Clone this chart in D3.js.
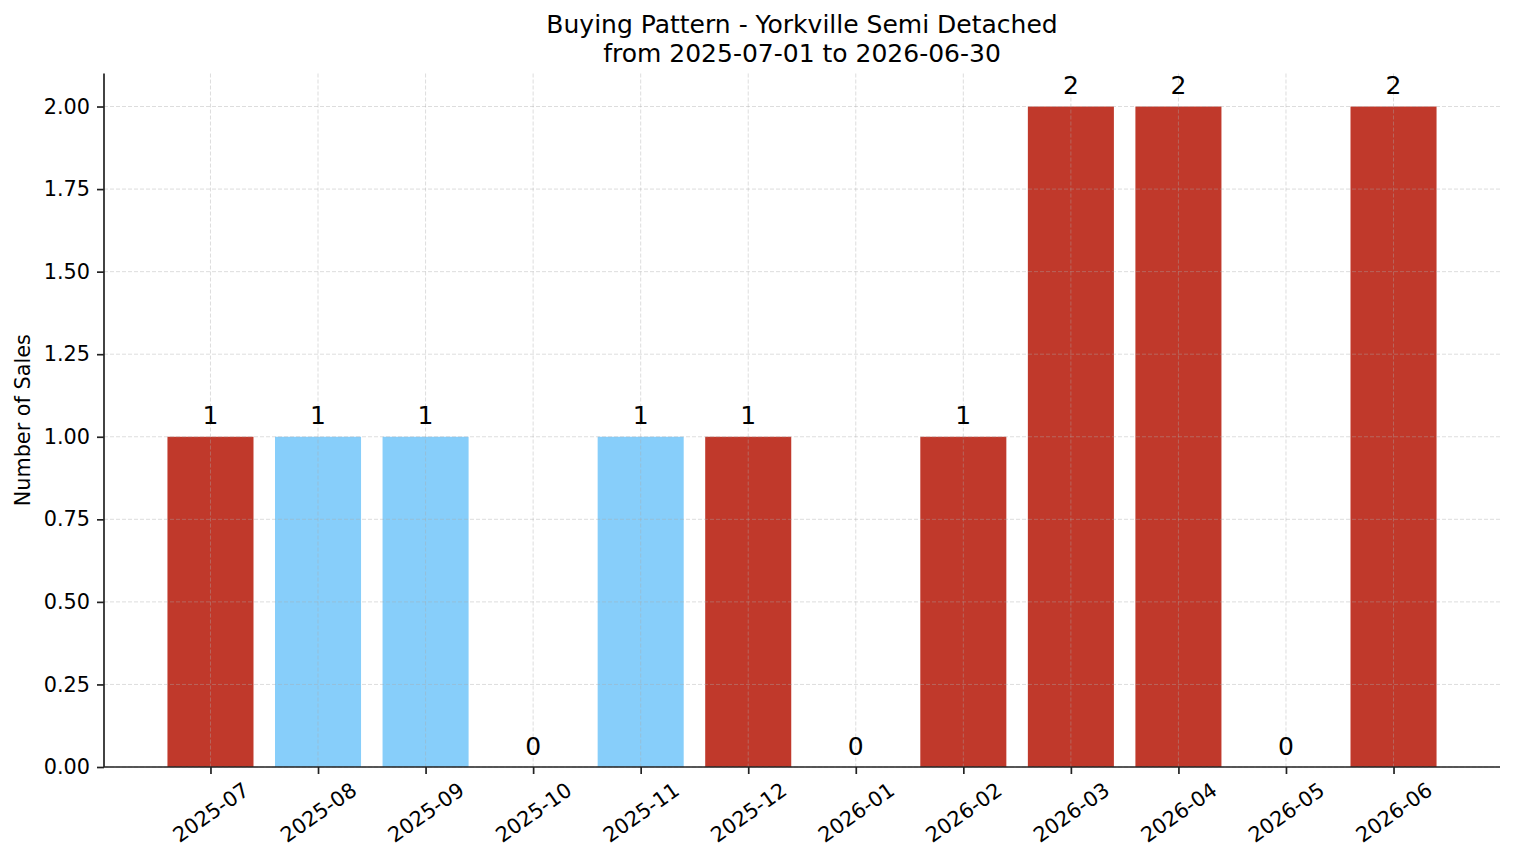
<!DOCTYPE html>
<html>
<head>
<meta charset="utf-8">
<script src="https://cdn.jsdelivr.net/npm/d3@7"></script>
<style>
  body { margin: 0; background: #fff; }
  text { font-family: "DejaVu Sans", sans-serif; fill: #000; }
</style>
</head>
<body>
<div id="chart"></div>
<script>
// monthly sales data
const months = ["2025-07", "2025-08", "2025-09", "2025-10", "2025-11", "2025-12",
                "2026-01", "2026-02", "2026-03", "2026-04", "2026-05", "2026-06"];
const sales = [1, 1, 1, 0, 1, 1, 0, 1, 2, 2, 0, 2];
const barColors = ["#c0392b", "#87cefa", "#87cefa", "#c0392b", "#87cefa", "#c0392b",
                   "#c0392b", "#c0392b", "#c0392b", "#c0392b", "#c0392b", "#c0392b"];
const yTicks = [0, 0.25, 0.5, 0.75, 1, 1.25, 1.5, 1.75, 2];
const titleLines = ["Buying Pattern - Yorkville Semi Detached", "from 2025-07-01 to 2026-06-30"];

const width = 1514, height = 863;
const margin = { top: 73.5, right: 14, bottom: 96, left: 104 };
const innerW = width - margin.left - margin.right;
const innerH = height - margin.top - margin.bottom;

const svg = d3.select("#chart").append("svg")
    .attr("width", width)
    .attr("height", height);

const g = svg.append("g")
    .attr("transform", `translate(${margin.left},${margin.top})`);

// x: index scale like matplotlib with 5% margins around the bars
const barW = 0.8;
const xPad = (months.length - 1 + barW) * 0.05;
const x = d3.scaleLinear()
    .domain([-barW / 2 - xPad, months.length - 1 + barW / 2 + xPad])
    .range([0, innerW]);

const y = d3.scaleLinear().domain([0, 2.1]).range([innerH, 0]);

// bars
g.selectAll("rect.bar")
    .data(sales)
    .join("rect")
    .attr("class", "bar")
    .attr("x", (d, i) => x(i - barW / 2))
    .attr("width", x(barW) - x(0))
    .attr("y", d => y(d))
    .attr("height", d => y(0) - y(d))
    .attr("fill", (d, i) => barColors[i]);

// grid on top of bars
const grid = g.append("g").attr("class", "grid")
    .attr("stroke", "#aaaaaa")
    .attr("stroke-opacity", 0.5)
    .attr("stroke-width", 0.8)
    .attr("stroke-dasharray", "4,2");
grid.selectAll("line.h")
    .data(yTicks)
    .join("line")
    .attr("class", "h")
    .attr("x1", 0).attr("x2", innerW)
    .attr("y1", d => y(d)).attr("y2", d => y(d));
grid.selectAll("line.v")
    .data(months.map((m, i) => i))
    .join("line")
    .attr("class", "v")
    .attr("y1", 0).attr("y2", innerH)
    .attr("x1", d => x(d)).attr("x2", d => x(d));

// value labels
g.selectAll("text.val")
    .data(sales)
    .join("text")
    .attr("class", "val")
    .attr("x", (d, i) => x(i))
    .attr("y", d => y(d) - 12.5)
    .attr("text-anchor", "middle")
    .style("font-size", "25px")
    .text(d => d);

// y axis
const yAxis = g.append("g")
    .call(d3.axisLeft(y).tickValues(yTicks).tickFormat(d3.format(".2f")).tickSize(7).tickPadding(7));

// x axis
const xAxis = g.append("g")
    .attr("transform", `translate(0,${innerH})`)
    .call(d3.axisBottom(x).tickValues(months.map((m, i) => i))
        .tickFormat(i => months[i]).tickSize(7).tickPadding(7));

[xAxis, yAxis].forEach(ax => {
    ax.select(".domain").attr("stroke", "#222").attr("stroke-width", 1.7);
    ax.selectAll(".tick line").attr("stroke", "#222").attr("stroke-width", 1.7);
    ax.selectAll(".tick text")
        .style("font-family", '"DejaVu Sans", sans-serif')
        .style("font-size", "20.8px")
        .attr("fill", "#000");
});
// remove the little end caps d3 adds on the domain path
yAxis.select(".domain").attr("d", `M0,${innerH}V0`);
xAxis.select(".domain").attr("d", `M0,0H${innerW}`);

// rotate x tick labels 35 degrees, centred on tick
xAxis.selectAll(".tick text").each(function () {
    const t = d3.select(this);
    const bb = this.getBBox();
    const a = 35 * Math.PI / 180;
    const w = bb.width, h = 16;
    const boxH = w * Math.sin(a) + h * Math.cos(a);
    t.attr("text-anchor", "middle")
        .attr("dy", null)
        .attr("y", 0)
        .attr("transform", `translate(0,${14 + boxH / 2}) rotate(-35) translate(0,${h * 0.45})`);
});

// y label
svg.append("text")
    .attr("transform", `translate(30,${margin.top + innerH / 2}) rotate(-90)`)
    .attr("text-anchor", "middle")
    .style("font-size", "20.8px")
    .text("Number of Sales");

// title
svg.append("text")
    .attr("text-anchor", "middle")
    .style("font-size", "25px")
    .selectAll("tspan")
    .data(titleLines)
    .join("tspan")
    .attr("x", margin.left + innerW / 2)
    .attr("y", (d, i) => 33 + i * 29)
    .text(d => d);
</script>
</body>
</html>
